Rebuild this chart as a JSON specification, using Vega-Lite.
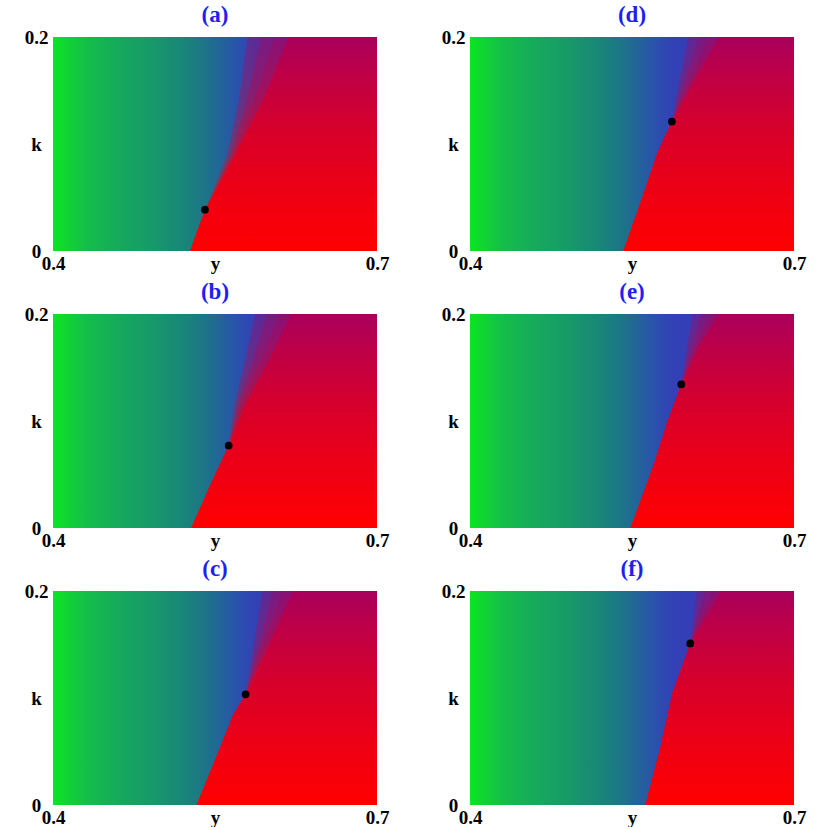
{
  "$schema": "https://vega.github.io/schema/vega-lite/v6.json",
  "background": "white",
  "padding": {"left": 24, "top": 4, "right": 5, "bottom": 0},
  "data": {
    "values": [
      {"panel": "(a)", "type": "dot", "x": 0.5407, "k": 0.0386},
      {"panel": "(a)", "type": "b", "k": 0, "s": 0.527, "d1": 0.527, "d2": 0.527, "d3": 0.527},
      {"panel": "(a)", "type": "b", "k": 0.02, "s": 0.534, "d1": 0.534, "d2": 0.534, "d3": 0.534},
      {"panel": "(a)", "type": "b", "k": 0.0386, "s": 0.541, "d1": 0.541, "d2": 0.541, "d3": 0.541},
      {"panel": "(a)", "type": "b", "k": 0.089, "s": 0.568, "d1": 0.561, "d2": 0.564, "d3": 0.566},
      {"panel": "(a)", "type": "b", "k": 0.14, "s": 0.594, "d1": 0.572, "d2": 0.579, "d3": 0.586},
      {"panel": "(a)", "type": "b", "k": 0.2, "s": 0.618, "d1": 0.58, "d2": 0.593, "d3": 0.605},

      {"panel": "(b)", "type": "dot", "x": 0.5627, "k": 0.077},
      {"panel": "(b)", "type": "b", "k": 0, "s": 0.528, "d1": 0.528, "d2": 0.528, "d3": 0.528},
      {"panel": "(b)", "type": "b", "k": 0.0433, "s": 0.547, "d1": 0.547, "d2": 0.547, "d3": 0.547},
      {"panel": "(b)", "type": "b", "k": 0.077, "s": 0.5627, "d1": 0.5627, "d2": 0.5627, "d3": 0.5627},
      {"panel": "(b)", "type": "b", "k": 0.115, "s": 0.578, "d1": 0.568, "d2": 0.571, "d3": 0.574},
      {"panel": "(b)", "type": "b", "k": 0.157, "s": 0.6, "d1": 0.578, "d2": 0.585, "d3": 0.592},
      {"panel": "(b)", "type": "b", "k": 0.2, "s": 0.62, "d1": 0.587, "d2": 0.598, "d3": 0.609},

      {"panel": "(c)", "type": "dot", "x": 0.5784, "k": 0.1035},
      {"panel": "(c)", "type": "b", "k": 0, "s": 0.533, "d1": 0.533, "d2": 0.533, "d3": 0.533},
      {"panel": "(c)", "type": "b", "k": 0.0536, "s": 0.5546, "d1": 0.5546, "d2": 0.5546, "d3": 0.5546},
      {"panel": "(c)", "type": "b", "k": 0.0848, "s": 0.567, "d1": 0.567, "d2": 0.567, "d3": 0.567},
      {"panel": "(c)", "type": "b", "k": 0.1035, "s": 0.5784, "d1": 0.5784, "d2": 0.5784, "d3": 0.5784},
      {"panel": "(c)", "type": "b", "k": 0.15, "s": 0.6, "d1": 0.586, "d2": 0.591, "d3": 0.595},
      {"panel": "(c)", "type": "b", "k": 0.2, "s": 0.622, "d1": 0.594, "d2": 0.603, "d3": 0.612},

      {"panel": "(d)", "type": "dot", "x": 0.587, "k": 0.121},
      {"panel": "(d)", "type": "b", "k": 0, "s": 0.542, "d1": 0.542, "d2": 0.542, "d3": 0.542},
      {"panel": "(d)", "type": "b", "k": 0.0458, "s": 0.558, "d1": 0.558, "d2": 0.558, "d3": 0.558},
      {"panel": "(d)", "type": "b", "k": 0.0925, "s": 0.5737, "d1": 0.5737, "d2": 0.5737, "d3": 0.5737},
      {"panel": "(d)", "type": "b", "k": 0.121, "s": 0.587, "d1": 0.587, "d2": 0.587, "d3": 0.587},
      {"panel": "(d)", "type": "b", "k": 0.16, "s": 0.608, "d1": 0.594, "d2": 0.599, "d3": 0.604},
      {"panel": "(d)", "type": "b", "k": 0.2, "s": 0.63, "d1": 0.602, "d2": 0.611, "d3": 0.62},

      {"panel": "(e)", "type": "dot", "x": 0.5957, "k": 0.1343},
      {"panel": "(e)", "type": "b", "k": 0, "s": 0.5486, "d1": 0.5486, "d2": 0.5486, "d3": 0.5486},
      {"panel": "(e)", "type": "b", "k": 0.0589, "s": 0.57, "d1": 0.57, "d2": 0.57, "d3": 0.57},
      {"panel": "(e)", "type": "b", "k": 0.0993, "s": 0.5827, "d1": 0.5827, "d2": 0.5827, "d3": 0.5827},
      {"panel": "(e)", "type": "b", "k": 0.1343, "s": 0.5957, "d1": 0.5957, "d2": 0.5957, "d3": 0.5957},
      {"panel": "(e)", "type": "b", "k": 0.17, "s": 0.612, "d1": 0.601, "d2": 0.605, "d3": 0.609},
      {"panel": "(e)", "type": "b", "k": 0.2, "s": 0.63, "d1": 0.606, "d2": 0.614, "d3": 0.622},

      {"panel": "(f)", "type": "dot", "x": 0.604, "k": 0.151},
      {"panel": "(f)", "type": "b", "k": 0, "s": 0.5625, "d1": 0.5625, "d2": 0.5625, "d3": 0.5625},
      {"panel": "(f)", "type": "b", "k": 0.055, "s": 0.5765, "d1": 0.5765, "d2": 0.5765, "d3": 0.5765},
      {"panel": "(f)", "type": "b", "k": 0.1056, "s": 0.5876, "d1": 0.5876, "d2": 0.5876, "d3": 0.5876},
      {"panel": "(f)", "type": "b", "k": 0.151, "s": 0.604, "d1": 0.604, "d2": 0.604, "d3": 0.604},
      {"panel": "(f)", "type": "b", "k": 0.2, "s": 0.632, "d1": 0.61, "d2": 0.617, "d3": 0.624}
    ]
  },
  "facet": {
    "field": "panel",
    "type": "nominal",
    "sort": ["(a)", "(d)", "(b)", "(e)", "(c)", "(f)"],
    "header": {
      "title": null,
      "labelFont": "Liberation Serif",
      "labelFontSize": 23,
      "labelFontWeight": "bold",
      "labelColor": "#1e1ef5",
      "labelPadding": 1
    }
  },
  "columns": 2,
  "spacing": {"row": 8, "column": 52},
  "resolve": {"axis": {"x": "independent", "y": "independent"}},
  "spec": {
    "width": 324,
    "height": 214,
    "layer": [
      {
        "transform": [{"filter": "datum.type == 'dot'"}],
        "mark": {
          "type": "rect",
          "color": {
            "gradient": "linear",
            "x1": 0, "y1": 0, "x2": 1, "y2": 0,
            "stops": [
              {"offset": 0, "color": "#0ae620"},
              {"offset": 0.04, "color": "#10d532"},
              {"offset": 0.1, "color": "#14bf48"},
              {"offset": 0.2, "color": "#16aa5c"},
              {"offset": 0.3, "color": "#179a68"},
              {"offset": 0.4, "color": "#198678"},
              {"offset": 0.47, "color": "#1d7488"},
              {"offset": 0.53, "color": "#24609e"},
              {"offset": 0.58, "color": "#2c4eb0"},
              {"offset": 0.63, "color": "#3340b6"},
              {"offset": 1, "color": "#3c30c0"}
            ]
          }
        },
        "encoding": {
          "x": {
            "datum": 0.4,
            "type": "quantitative",
            "scale": {"domain": [0.4, 0.7], "nice": false, "zero": false},
            "axis": {
              "values": [0.4, 0.7],
              "format": "~g",
              "title": "y",
              "labelFlush": false,
              "ticks": false,
              "tickSize": 0,
              "domain": false,
              "grid": false,
              "labelPadding": 3,
              "titleY": 18,
              "titleBaseline": "alphabetic"
            }
          },
          "x2": {"datum": 0.7},
          "y": {
            "datum": 0,
            "type": "quantitative",
            "scale": {"domain": [0, 0.2], "nice": false, "zero": false},
            "axis": {
              "values": [0, 0.2],
              "format": "~g",
              "title": "k",
              "labelFlush": false,
              "labelAlign": "center",
              "labelBaseline": "middle",
              "ticks": false,
              "tickSize": 0,
              "domain": false,
              "grid": false,
              "labelPadding": 17,
              "titleAngle": 0,
              "titleX": -17,
              "titleY": 107,
              "titleAlign": "center",
              "titleBaseline": "middle"
            }
          },
          "y2": {"datum": 0.2}
        }
      },
      {
        "transform": [{"filter": "datum.type == 'b'"}],
        "mark": {
          "type": "area",
          "orient": "horizontal",
          "opacity": 0.35,
          "color": {
            "gradient": "linear",
            "x1": 0, "y1": 1, "x2": 0, "y2": 0,
            "stops": [
              {"offset": 0, "color": "#ff0000"},
              {"offset": 0.3, "color": "#ec0016"},
              {"offset": 0.6, "color": "#d4002e"},
              {"offset": 0.85, "color": "#bc004a"},
              {"offset": 1, "color": "#a8005c"}
            ]
          }
        },
        "encoding": {
          "y": {"field": "k", "type": "quantitative"},
          "x": {"field": "d1", "type": "quantitative"},
          "x2": {"datum": 0.7}
        }
      },
      {
        "transform": [{"filter": "datum.type == 'b'"}],
        "mark": {
          "type": "area",
          "orient": "horizontal",
          "opacity": 0.35,
          "color": {
            "gradient": "linear",
            "x1": 0, "y1": 1, "x2": 0, "y2": 0,
            "stops": [
              {"offset": 0, "color": "#ff0000"},
              {"offset": 0.3, "color": "#ec0016"},
              {"offset": 0.6, "color": "#d4002e"},
              {"offset": 0.85, "color": "#bc004a"},
              {"offset": 1, "color": "#a8005c"}
            ]
          }
        },
        "encoding": {
          "y": {"field": "k", "type": "quantitative"},
          "x": {"field": "d2", "type": "quantitative"},
          "x2": {"datum": 0.7}
        }
      },
      {
        "transform": [{"filter": "datum.type == 'b'"}],
        "mark": {
          "type": "area",
          "orient": "horizontal",
          "opacity": 0.35,
          "color": {
            "gradient": "linear",
            "x1": 0, "y1": 1, "x2": 0, "y2": 0,
            "stops": [
              {"offset": 0, "color": "#ff0000"},
              {"offset": 0.3, "color": "#ec0016"},
              {"offset": 0.6, "color": "#d4002e"},
              {"offset": 0.85, "color": "#bc004a"},
              {"offset": 1, "color": "#a8005c"}
            ]
          }
        },
        "encoding": {
          "y": {"field": "k", "type": "quantitative"},
          "x": {"field": "d3", "type": "quantitative"},
          "x2": {"datum": 0.7}
        }
      },
      {
        "transform": [{"filter": "datum.type == 'b'"}],
        "mark": {
          "type": "area",
          "orient": "horizontal",
          "color": {
            "gradient": "linear",
            "x1": 0, "y1": 1, "x2": 0, "y2": 0,
            "stops": [
              {"offset": 0, "color": "#ff0000"},
              {"offset": 0.3, "color": "#ec0016"},
              {"offset": 0.6, "color": "#d4002e"},
              {"offset": 0.85, "color": "#bc004a"},
              {"offset": 1, "color": "#a8005c"}
            ]
          }
        },
        "encoding": {
          "y": {"field": "k", "type": "quantitative"},
          "x": {"field": "s", "type": "quantitative"},
          "x2": {"datum": 0.7}
        }
      },
      {
        "transform": [{"filter": "datum.type == 'dot'"}],
        "mark": {"type": "point", "filled": true, "color": "black", "size": 60, "opacity": 1},
        "encoding": {
          "x": {"field": "x", "type": "quantitative"},
          "y": {"field": "k", "type": "quantitative"}
        }
      }
    ]
  },
  "config": {
    "view": {"stroke": null},
    "axis": {
      "labelFont": "Liberation Serif",
      "labelFontSize": 19,
      "labelFontWeight": "bold",
      "labelColor": "black",
      "titleFont": "Liberation Serif",
      "titleFontSize": 19,
      "titleFontWeight": "bold",
      "titleColor": "black"
    }
  }
}
